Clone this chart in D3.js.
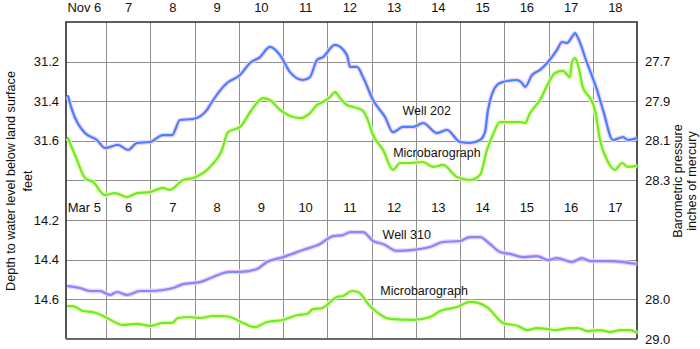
<!DOCTYPE html>
<html><head><meta charset="utf-8">
<script src="https://cdn.jsdelivr.net/npm/d3@7"></script>
<style>
html,body{margin:0;padding:0;background:#fff;}
svg{display:block;font-family:"Liberation Sans",Arial,Helvetica,sans-serif;}
</style></head>
<body><svg id="c" width="700" height="349"></svg>
<script>
// ---------- data (days since start of first labelled day) ----------
const topDayLabels = ["Nov 6","7","8","9","10","11","12","13","14","15","16","17","18"];
const lowDayLabels = ["Mar 5","6","7","8","9","10","11","12","13","14","15","16","17"];
const leftTopTicks = [31.2, 31.4, 31.6];
const leftLowTicks = [14.2, 14.4, 14.6];
const rightTopTicks = [27.7, 27.9, 28.1, 28.3];
const rightLowTicks = [28.8, 29.0];
const rightLowTickLabels = ["28.0", "29.0"];

const well202Days = [0.141,0.232,0.525,0.797,0.977,1.271,1.497,1.701,1.994,2.288,2.492,2.672,2.966,3.282,3.350,3.734,4.028,4.254,4.480,4.706,4.932,5.158,5.452,5.610,5.768,5.904,6.175,6.446,6.514,6.672,6.808,7.034,7.305,7.486,7.712,7.938,8.164,8.480,8.706,9.000,9.226,9.452,9.565,9.633,9.836,9.972,10.288,10.401,10.469,10.627,10.808,10.989,11.192,11.305,11.418,11.531,11.599,11.667,11.870,12.096,12.232,12.458,12.684,12.797,13.000];
const well202Depth = [31.374,31.444,31.561,31.596,31.636,31.621,31.646,31.611,31.606,31.571,31.571,31.495,31.490,31.444,31.419,31.308,31.268,31.207,31.177,31.126,31.167,31.253,31.293,31.278,31.192,31.177,31.116,31.167,31.227,31.227,31.278,31.394,31.480,31.556,31.530,31.530,31.510,31.561,31.545,31.606,31.611,31.596,31.556,31.444,31.318,31.303,31.293,31.308,31.328,31.268,31.242,31.202,31.141,31.101,31.106,31.076,31.056,31.081,31.207,31.343,31.444,31.596,31.581,31.596,31.586];

const baroNovDays = [0.141,0.345,0.525,0.706,0.977,1.203,1.475,1.701,1.994,2.288,2.446,2.740,2.966,3.350,3.621,3.757,4.028,4.322,4.548,4.706,4.932,5.384,5.610,5.768,5.904,6.062,6.175,6.288,6.446,6.582,6.785,6.898,7.034,7.260,7.486,7.644,7.870,8.164,8.390,8.616,8.932,9.226,9.452,9.610,9.723,9.904,10.356,10.469,10.582,10.808,11.034,11.147,11.328,11.486,11.531,11.599,11.667,11.780,11.938,12.051,12.164,12.322,12.503,12.661,12.797,13.000];
const baroNovPressure = [28.086,28.197,28.288,28.308,28.374,28.364,28.384,28.364,28.359,28.338,28.348,28.298,28.288,28.232,28.146,28.056,28.030,27.934,27.884,27.894,27.944,27.985,27.960,27.919,27.904,27.879,27.854,27.884,27.919,27.929,27.944,27.985,28.071,28.146,28.247,28.212,28.212,28.207,28.232,28.222,28.283,28.298,28.273,28.146,28.081,28.005,28.005,28.010,27.960,27.894,27.793,27.758,27.747,27.778,27.702,27.682,27.717,27.833,27.884,27.944,28.096,28.197,28.247,28.212,28.232,28.227];

const well310Days = [0.141,0.412,0.638,0.864,1.090,1.249,1.475,1.768,1.994,2.288,2.514,2.740,3.124,3.418,3.802,4.028,4.412,4.638,5.000,5.452,5.836,6.130,6.356,6.514,6.808,7.034,7.260,7.576,7.938,8.322,8.616,9.000,9.226,9.452,9.678,9.904,10.130,10.424,10.740,10.989,11.192,11.531,11.757,11.938,12.390,13.000];
const well310Depth = [14.533,14.543,14.558,14.558,14.578,14.563,14.578,14.558,14.558,14.553,14.543,14.523,14.513,14.487,14.462,14.462,14.447,14.412,14.387,14.351,14.321,14.281,14.276,14.261,14.261,14.306,14.321,14.356,14.351,14.336,14.311,14.306,14.286,14.286,14.321,14.361,14.371,14.387,14.382,14.402,14.392,14.412,14.392,14.407,14.407,14.422];

const baroMarDays = [0.141,0.254,0.480,0.706,1.023,1.384,1.701,1.994,2.288,2.492,2.627,2.898,3.124,3.418,3.621,3.802,4.096,4.367,4.638,5.000,5.339,5.542,5.678,5.881,6.220,6.356,6.559,6.695,6.966,7.418,7.938,8.322,8.548,8.932,9.226,9.407,9.610,9.972,10.311,10.514,10.740,10.989,11.147,11.486,11.667,11.870,12.164,12.390,12.616,12.842,13.000];
const baroMarPressure = [28.834,28.834,28.859,28.864,28.894,28.929,28.924,28.934,28.919,28.919,28.894,28.889,28.894,28.884,28.884,28.889,28.919,28.940,28.914,28.904,28.879,28.874,28.849,28.844,28.788,28.783,28.758,28.763,28.834,28.899,28.904,28.889,28.859,28.839,28.813,28.818,28.839,28.919,28.934,28.955,28.945,28.950,28.955,28.945,28.945,28.960,28.955,28.965,28.955,28.955,28.970];

// ---------- layout ----------
const L = 66, R = 637, T = 22, M = 220, B = 339;
const svg = d3.select("#c");

const x = d3.scaleLinear().domain([0.096, 13]).range([L, R]);
const yWellTop = d3.scaleLinear().domain([31.0, 32.0]).range([T, M]);
const yBaroTop = d3.scaleLinear().domain([27.5, 28.5]).range([T, M]);
const yWellLow = d3.scaleLinear().domain([14.2, 14.8]).range([M, B]);
const yBaroLow = d3.scaleLinear().domain([28.4, 29.0]).range([M, B]);

// grid
const grid = svg.append("g").attr("stroke", "#8f8f8f").attr("stroke-width", 1);
d3.range(1, 13).forEach(d => {
  grid.append("line").attr("x1", Math.round(x(d)) + 0.5).attr("x2", Math.round(x(d)) + 0.5)
    .attr("y1", T).attr("y2", B);
});
[31.2, 31.4, 31.6, 31.8, 32.0].forEach(v => {
  const yy = Math.round(yWellTop(v)) + 0.5;
  grid.append("line").attr("x1", L).attr("x2", R).attr("y1", yy).attr("y2", yy);
});
[14.4, 14.6].forEach(v => {
  const yy = Math.round(yWellLow(v)) + 0.5;
  grid.append("line").attr("x1", L).attr("x2", R).attr("y1", yy).attr("y2", yy);
});

// frame
const frame = svg.append("g").attr("fill", "none");
frame.append("path").attr("d", `M${L},${B}V${T}H${R}V${B}`).attr("stroke", "#2a2a2a").attr("stroke-width", 1.6);
frame.append("line").attr("x1", L).attr("x2", R).attr("y1", B).attr("y2", B).attr("stroke", "#6a6a6a").attr("stroke-width", 2.2);

// lines
function drawLine(days, vals, yScale, color, halo, w) {
  const pts = days.map((d, i) => [d, vals[i]]);
  const gen = d3.line().x(p => x(p[0])).y(p => yScale(p[1])).curve(d3.curveMonotoneX);
  svg.append("path").attr("d", gen(pts)).attr("fill", "none").attr("stroke", halo)
    .attr("stroke-width", w + 2.6).attr("stroke-linejoin", "round").attr("stroke-opacity", 0.8);
  svg.append("path").attr("d", gen(pts)).attr("fill", "none").attr("stroke", color)
    .attr("stroke-width", w).attr("stroke-linejoin", "round").attr("stroke-linecap", "round");
}
drawLine(baroNovDays, baroNovPressure, yBaroTop, "#66ee2c", "#eef7a0", 2.2);
drawLine(well202Days, well202Depth, yWellTop, "#3f84ff", "#f2c4f4", 2.2);
drawLine(baroMarDays, baroMarPressure, yBaroLow, "#66ee2c", "#eef7a0", 2.2);
drawLine(well310Days, well310Depth, yWellLow, "#7d8bff", "#f2c4f4", 2.2);

// axes (labels only)
const fontSize = 13;
function styleAxis(g) {
  g.select(".domain").remove();
  g.selectAll("line").remove();
  g.selectAll("text").attr("font-size", fontSize).attr("fill", "#111")
    .attr("font-family", '"Liberation Sans",Arial,sans-serif');
}
const mids = d3.range(0, 13).map(i => i + 0.5);

svg.append("g").attr("transform", `translate(0,${T})`)
  .call(d3.axisTop(x).tickValues(mids).tickSize(0).tickPadding(10).tickFormat((d, i) => topDayLabels[i]))
  .call(styleAxis);
svg.append("g").attr("transform", `translate(0,${M})`)
  .call(d3.axisTop(x).tickValues(mids).tickSize(0).tickPadding(8).tickFormat((d, i) => lowDayLabels[i]))
  .call(styleAxis);
svg.selectAll("g").filter(function(){ return this.getAttribute("transform") === `translate(0,${M})`; })
  .selectAll(".tick").each(function(d, i){ if (i === 0) d3.select(this).select("text").attr("x", 0); });

svg.append("g").attr("transform", `translate(${L},0)`)
  .call(d3.axisLeft(yWellTop).tickValues(leftTopTicks).tickSize(0).tickPadding(7).tickFormat(d3.format(".1f")))
  .call(styleAxis);
svg.append("g").attr("transform", `translate(${L},0)`)
  .call(d3.axisLeft(yWellLow).tickValues(leftLowTicks).tickSize(0).tickPadding(7).tickFormat(d3.format(".1f")))
  .call(styleAxis);
svg.append("g").attr("transform", `translate(${R},0)`)
  .call(d3.axisRight(yBaroTop).tickValues(rightTopTicks).tickSize(0).tickPadding(8).tickFormat(d3.format(".1f")))
  .call(styleAxis);
svg.append("g").attr("transform", `translate(${R},0)`)
  .call(d3.axisRight(yBaroLow).tickValues(rightLowTicks).tickSize(0).tickPadding(8).tickFormat((d, i) => rightLowTickLabels[i]))
  .call(styleAxis);

// series labels
const lab = svg.append("g").attr("font-size", 12.5).attr("fill", "#111");
lab.append("text").attr("x", x(7.7)).attr("y", yWellTop(31.47)).text("Well 202");
lab.append("text").attr("x", x(7.49)).attr("y", yBaroTop(28.18)).text("Microbarograph");
lab.append("text").attr("x", x(7.25)).attr("y", yWellLow(14.296)).text("Well 310");
lab.append("text").attr("x", x(7.2)).attr("y", yBaroLow(28.776)).text("Microbarograph");

// axis titles
const cy = 181;
svg.append("text").attr("transform", `translate(15,${cy}) rotate(-90)`).attr("text-anchor", "middle")
  .attr("font-size", 12.6).attr("fill", "#111").text("Depth to water level below land surface");
svg.append("text").attr("transform", `translate(32,${cy}) rotate(-90)`).attr("text-anchor", "middle")
  .attr("font-size", 12.6).attr("fill", "#111").text("feet");
svg.append("text").attr("transform", `translate(682,${cy}) rotate(-90)`).attr("text-anchor", "middle")
  .attr("font-size", 12.6).attr("fill", "#111").text("Barometric pressure");
svg.append("text").attr("transform", `translate(696,${cy}) rotate(-90)`).attr("text-anchor", "middle")
  .attr("font-size", 12.6).attr("fill", "#111").text("inches of mercury");
</script>
</body></html>
